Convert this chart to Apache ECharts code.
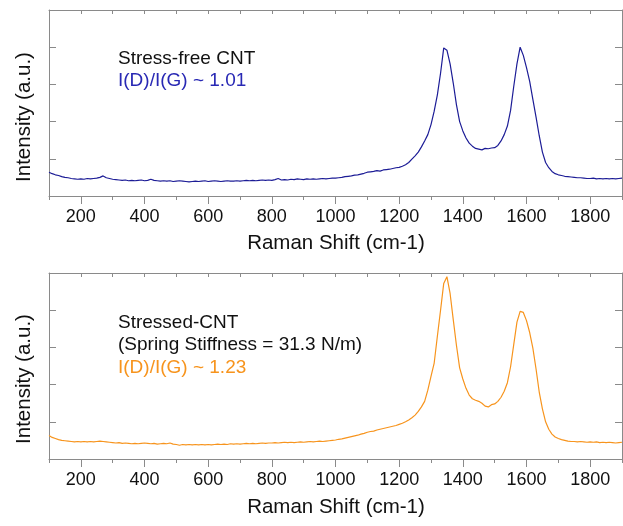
<!DOCTYPE html>
<html>
<head>
<meta charset="utf-8">
<script src="https://cdn.jsdelivr.net/npm/echarts@6/dist/echarts.min.js"></script>
<style>
html,body{margin:0;padding:0;background:#fff;}
#chart{width:623px;height:526px;}
</style>
</head>
<body>
<div id="chart"></div>
<script>
// Raman shift sampling (cm-1)
const ramanShift = [
100,110,120,130,140,150,160,170,180,190,
200,210,220,230,240,250,260,270,280,290,
300,310,320,330,340,350,360,370,380,390,
400,410,420,430,440,450,460,470,480,490,
500,510,520,530,540,550,560,570,580,590,
600,610,620,630,640,650,660,670,680,690,
700,710,720,730,740,750,760,770,780,790,
800,810,820,830,840,850,860,870,880,890,
900,910,920,930,940,950,960,970,980,990,
1000,1010,1020,1030,1040,1050,1060,1070,1080,1090,
1100,1110,1120,1130,1140,1150,1160,1170,1180,1190,
1200,1210,1220,1230,1240,1250,1260,1270,1280,1290,
1300,1310,1320,1330,1340,1350,1360,1370,1380,1390,
1400,1410,1420,1430,1440,1450,1460,1470,1480,1490,
1500,1510,1520,1530,1540,1550,1560,1570,1580,1590,
1600,1610,1620,1630,1640,1650,1660,1670,1680,1690,
1700,1710,1720,1730,1740,1750,1760,1770,1780,1790,
1800,1810,1820,1830,1840,1850,1860,1870,1880,1890,
1900
];

// Stress-free CNT intensity (a.u.)
const stressFree = [
0.64,0.60,0.57,0.55,0.52,0.50,0.49,0.47,0.46,0.45,
0.46,0.45,0.47,0.46,0.47,0.48,0.50,0.54,0.49,0.47,
0.45,0.44,0.43,0.42,0.43,0.41,0.42,0.41,0.42,0.43,
0.41,0.42,0.45,0.42,0.41,0.40,0.41,0.40,0.41,0.39,
0.40,0.41,0.40,0.39,0.38,0.39,0.40,0.39,0.40,0.41,
0.39,0.40,0.41,0.40,0.39,0.40,0.41,0.40,0.40,0.41,
0.40,0.41,0.42,0.41,0.42,0.41,0.42,0.43,0.42,0.43,
0.42,0.44,0.47,0.43,0.44,0.43,0.45,0.44,0.46,0.45,
0.44,0.46,0.45,0.46,0.45,0.46,0.47,0.46,0.47,0.48,
0.48,0.49,0.50,0.52,0.53,0.54,0.56,0.57,0.59,0.61,
0.64,0.65,0.66,0.68,0.67,0.70,0.71,0.72,0.74,0.76,
0.77,0.80,0.84,0.90,0.99,1.08,1.18,1.32,1.48,1.65,
1.92,2.28,2.72,3.30,3.98,3.92,3.55,3.03,2.45,2.00,
1.75,1.56,1.42,1.34,1.28,1.26,1.24,1.28,1.27,1.29,
1.30,1.36,1.48,1.65,1.88,2.30,2.95,3.55,4.00,3.78,
3.45,3.08,2.60,2.12,1.62,1.18,0.90,0.76,0.66,0.60,
0.57,0.55,0.53,0.52,0.51,0.50,0.49,0.49,0.48,0.47,
0.47,0.48,0.46,0.47,0.46,0.47,0.46,0.47,0.46,0.47,
0.48
];

// Stressed CNT intensity (a.u.)
const stressed = [
0.63,0.58,0.55,0.52,0.50,0.49,0.48,0.47,0.46,0.47,
0.46,0.47,0.46,0.47,0.46,0.47,0.48,0.47,0.46,0.45,
0.44,0.43,0.44,0.42,0.43,0.42,0.41,0.42,0.41,0.42,
0.43,0.42,0.41,0.42,0.40,0.41,0.42,0.41,0.43,0.40,
0.39,0.37,0.39,0.38,0.39,0.38,0.39,0.38,0.39,0.38,
0.39,0.38,0.39,0.40,0.39,0.40,0.39,0.41,0.40,0.41,
0.40,0.41,0.42,0.41,0.42,0.41,0.42,0.43,0.42,0.43,
0.43,0.44,0.43,0.44,0.45,0.44,0.45,0.44,0.45,0.46,
0.45,0.46,0.47,0.46,0.47,0.48,0.47,0.48,0.49,0.50,
0.51,0.53,0.54,0.56,0.58,0.60,0.62,0.64,0.67,0.69,
0.72,0.74,0.75,0.78,0.80,0.82,0.84,0.86,0.88,0.90,
0.93,0.96,1.00,1.05,1.11,1.18,1.28,1.40,1.55,1.85,
2.22,2.58,3.30,4.00,4.72,4.90,4.45,3.74,3.05,2.45,
2.15,1.90,1.72,1.62,1.58,1.55,1.50,1.42,1.40,1.46,
1.48,1.55,1.66,1.82,2.05,2.48,3.08,3.68,3.97,3.94,
3.72,3.40,2.98,2.42,1.80,1.35,1.00,0.80,0.67,0.59,
0.55,0.52,0.50,0.48,0.47,0.47,0.46,0.47,0.46,0.45,
0.46,0.45,0.46,0.44,0.45,0.44,0.45,0.44,0.43,0.44,
0.45
];

const xTickLabels = [200,400,600,800,1000,1200,1400,1600,1800];
const xMinorTicks = [100,200,300,400,500,600,700,800,900,1000,1100,1200,1300,1400,1500,1600,1700,1800,1900];

const FONT = '"Liberation Sans", Arial, Helvetica, sans-serif';
const AXIS_COLOR = '#8a8a8a';
const BLUE = '#1c1c96';
const BLUE_TEXT = '#2828b4';
const ORANGE = '#f7941d';

function pairs(ys){ return ramanShift.map((x,i)=>[x, ys[i]]); }

const grids = [
  {left:49, top:10, width:573, height:186},
  {left:49, top:273, width:573, height:186}
];

const xAxes = [], yAxes = [];
grids.forEach((g, gi) => {
  xAxes.push({
    gridIndex: gi, type:'value', min:100, max:1900, position:'bottom',
    axisLine:{show:true, onZero:false, lineStyle:{color:AXIS_COLOR, width:1}},
    axisTick:{show:true, inside:false, length:4, customValues:xMinorTicks, lineStyle:{color:AXIS_COLOR}},
    axisLabel:{show:true, customValues:xTickLabels, margin:12, fontSize:18, color:'#111', fontFamily:FONT,
      formatter: v => String(v)},
    splitLine:{show:false}
  });
  xAxes.push({
    gridIndex: gi, type:'value', min:100, max:1900, position:'bottom',
    axisLine:{show:false},
    axisTick:{show:true, inside:false, length:8, customValues:xTickLabels, lineStyle:{color:AXIS_COLOR}},
    axisLabel:{show:false}, splitLine:{show:false}
  });
  xAxes.push({
    gridIndex: gi, type:'value', min:100, max:1900, position:'top',
    axisLine:{show:true, onZero:false, lineStyle:{color:AXIS_COLOR, width:1}},
    axisTick:{show:true, inside:true, length:4, customValues:xMinorTicks, lineStyle:{color:AXIS_COLOR}},
    axisLabel:{show:false}, splitLine:{show:false}
  });
  ['left','right'].forEach(pos => {
    yAxes.push({
      gridIndex: gi, type:'value', min:0, max:5, interval:1, position:pos,
      axisLine:{show:true, onZero:false, lineStyle:{color:AXIS_COLOR, width:1}},
      axisTick:{show:true, inside:true, length:7, lineStyle:{color:AXIS_COLOR}},
      axisLabel:{show:false}, splitLine:{show:false}
    });
  });
});

function txt(x, y, text, color, size, rot){
  return {type:'text', x:x, y:y, rotation: rot||0, silent:true,
    style:{text:text, fill:color, font: size + 'px ' + FONT, align: rot ? 'center' : 'left', verticalAlign:'middle'}};
}
function ctxt(x, y, text, color, size){
  return {type:'text', x:x, y:y, silent:true,
    style:{text:text, fill:color, font: size + 'px ' + FONT, align:'center', verticalAlign:'middle'}};
}

const chart = echarts.init(document.getElementById('chart'), null, {renderer:'canvas'});
chart.setOption({
  animation:false,
  backgroundColor:'#ffffff',
  grid: grids,
  xAxis: xAxes,
  yAxis: yAxes,
  series: [
    {type:'line', xAxisIndex:0, yAxisIndex:0, data:pairs(stressFree), showSymbol:false, symbol:'none',
      lineStyle:{color:BLUE, width:1.2}, itemStyle:{color:BLUE}},
    {type:'line', xAxisIndex:3, yAxisIndex:2, data:pairs(stressed), showSymbol:false, symbol:'none',
      lineStyle:{color:ORANGE, width:1.2}, itemStyle:{color:ORANGE}}
  ],
  graphic: [
    txt(118, 58.5, 'Stress-free CNT', '#111', 19),
    txt(118, 80.5, 'I(D)/I(G) ~ 1.01', BLUE_TEXT, 19),
    txt(118, 322.5, 'Stressed-CNT', '#111', 19),
    txt(118, 345, '(Spring Stiffness = 31.3 N/m)', '#111', 19),
    txt(118, 367.5, 'I(D)/I(G) ~ 1.23', ORANGE, 19),
    ctxt(336, 243, 'Raman Shift (cm-1)', '#111', 20.5),
    ctxt(336, 507, 'Raman Shift (cm-1)', '#111', 20.5),
    txt(24, 117, 'Intensity (a.u.)', '#111', 20.5, Math.PI/2),
    txt(24, 379, 'Intensity (a.u.)', '#111', 20.5, Math.PI/2)
  ]
});
</script>
</body>
</html>
